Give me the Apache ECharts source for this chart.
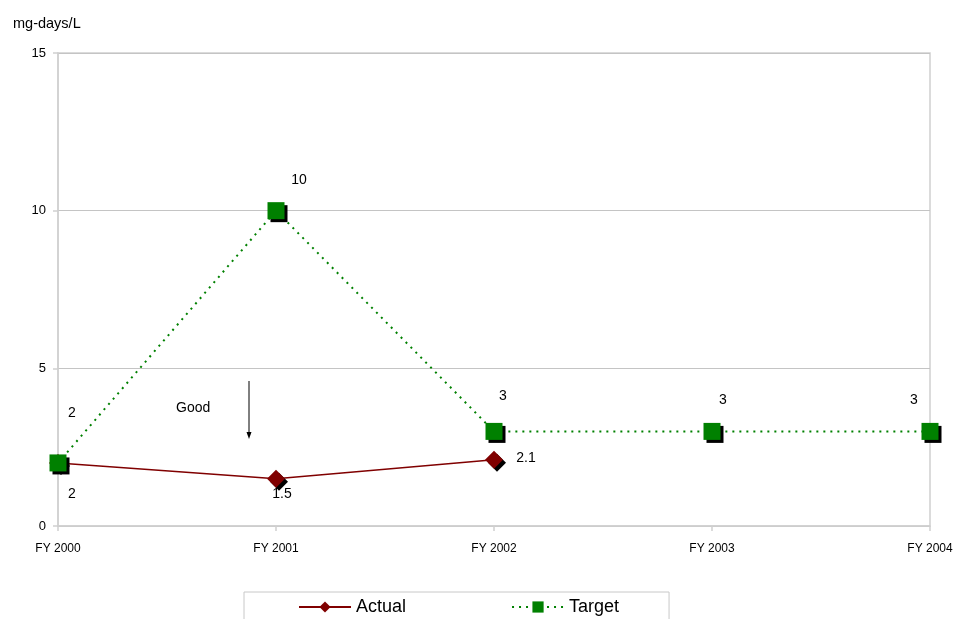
<!DOCTYPE html>
<html>
<head>
<meta charset="utf-8">
<script src="https://cdn.jsdelivr.net/npm/echarts@6/dist/echarts.min.js"></script>
<style>
html,body{margin:0;padding:0;background:#fff;}
#chart{width:962px;height:619px;}
</style>
</head>
<body>
<div id="chart"></div>
<script>
var categories = ['FY 2000', 'FY 2001', 'FY 2002', 'FY 2003', 'FY 2004'];
var actualValues = [2, 1.5, 2.1, null, null];
var targetValues = [2, 10, 3, 3, 3];
var yTicks = [0, 5, 10, 15];

var actualLabelOffsets = [[14, 31], [6, 15], [32, -2], [0, 0], [0, 0]];
var targetLabelOffsets = [[14, -50], [23, -31], [9, -35], [11, -31], [-16, -31]];

function buildData(values, offsets) {
  return values.map(function (v, i) {
    return {
      value: v,
      label: { show: v !== null, position: 'inside', offset: offsets[i] }
    };
  });
}

var chart = echarts.init(document.getElementById('chart'));
var font = 'Liberation Sans, Arial, sans-serif';
chart.setOption({
  animation: false,
  textStyle: { fontFamily: font },
  title: {
    text: 'mg-days/L', left: 8, top: 11,
    textStyle: { fontSize: 14.5, fontWeight: 'normal', color: '#000', fontFamily: font }
  },
  grid: {
    left: 58, right: 32, top: 53, bottom: 93,
    show: true, borderColor: '#d0d0d0', borderWidth: 1.5
  },
  legend: {
    left: 244, top: 592,
    padding: [6, 50, 14, 54],
    itemGap: 105,
    itemWidth: 52, itemHeight: 14,
    borderColor: '#c8c8c8', borderWidth: 1,
    textStyle: { fontSize: 18, color: '#000', fontFamily: font },
    data: ['Actual', 'Target']
  },
  xAxis: {
    type: 'category',
    data: categories,
    boundaryGap: false,
    axisLine: { lineStyle: { color: '#d0d0d0', width: 1.5 } },
    axisTick: { show: true, length: 5, lineStyle: { color: '#d0d0d0', width: 1.5 } },
    axisLabel: { color: '#000', fontSize: 12, margin: 17, fontFamily: font },
    splitLine: { show: false }
  },
  yAxis: {
    type: 'value',
    min: yTicks[0], max: yTicks[yTicks.length - 1], interval: 5,
    axisLine: { show: true, lineStyle: { color: '#d0d0d0', width: 1.5 } },
    axisTick: { show: true, length: 5, lineStyle: { color: '#d0d0d0', width: 1.5 } },
    axisLabel: { color: '#000', fontSize: 13, margin: 12, fontFamily: font },
    splitLine: { show: true, lineStyle: { color: '#c4c4c4', width: 1 } }
  },
  series: [
    {
      name: 'Target',
      type: 'line',
      data: buildData(targetValues, targetLabelOffsets),
      symbol: 'rect',
      symbolSize: 17,
      z: 3,
      lineStyle: { color: '#008000', width: 2, type: [2, 5] },
      itemStyle: {
        color: '#008000',
        shadowColor: '#000', shadowOffsetX: 3, shadowOffsetY: 3, shadowBlur: 0
      },
      label: { color: '#000', fontSize: 14, fontFamily: font },
      emphasis: { disabled: true }
    },
    {
      name: 'Actual',
      type: 'line',
      data: buildData(actualValues, actualLabelOffsets),
      symbol: 'diamond',
      symbolSize: 18,
      z: 2,
      lineStyle: { color: '#800000', width: 1.5 },
      itemStyle: {
        color: '#800000',
        shadowColor: '#000', shadowOffsetX: 3, shadowOffsetY: 3, shadowBlur: 0
      },
      label: { color: '#000', fontSize: 14, fontFamily: font },
      emphasis: { disabled: true }
    }
  ],
  graphic: [
    {
      type: 'text', left: 176, top: 401,
      style: { text: 'Good', fill: '#000', font: '14px ' + font }
    },
    {
      type: 'line', shape: { x1: 249, y1: 381, x2: 249, y2: 434 },
      style: { stroke: '#000', lineWidth: 1 }
    },
    {
      type: 'polygon', shape: { points: [[246.5, 432], [251.5, 432], [249, 439]] },
      style: { fill: '#000' }
    }
  ]
});
</script>
</body>
</html>
